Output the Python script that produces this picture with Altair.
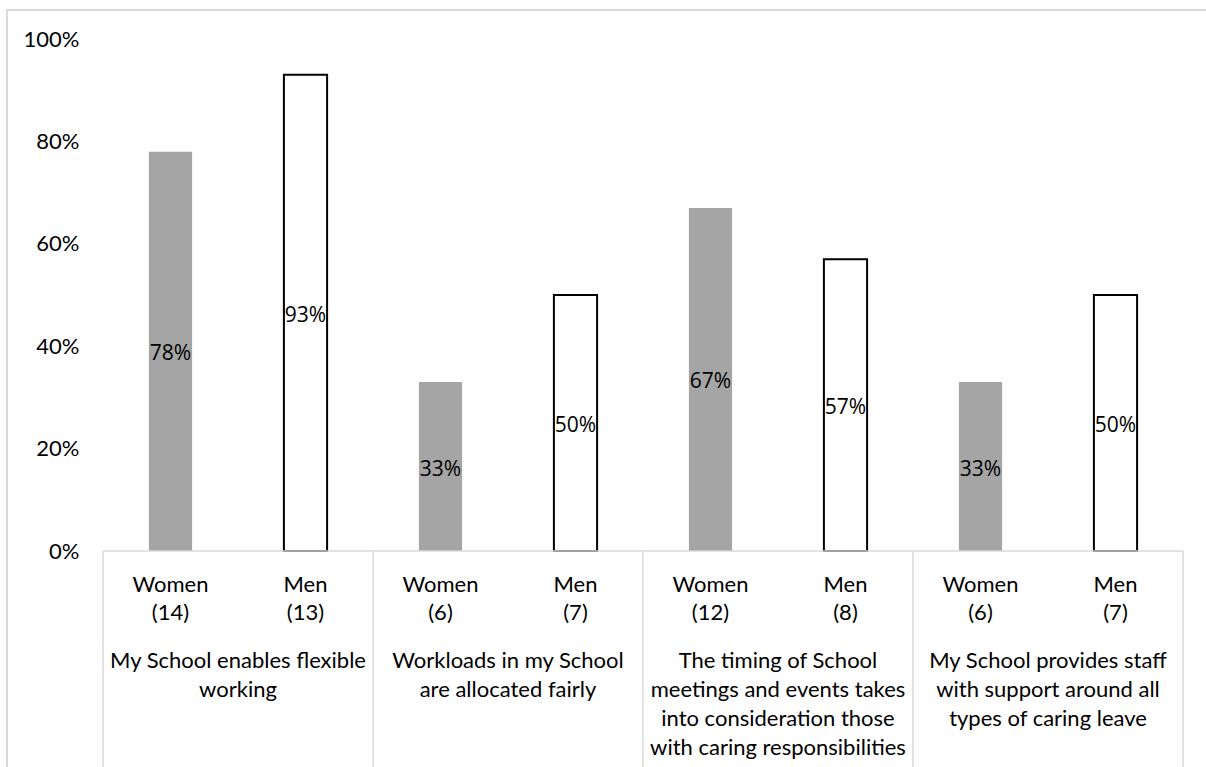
import altair as alt
import pandas as pd

# Survey statements (wrapped as they appear under each pair of columns)
statements = [
    "My School enables flexible\nworking",
    "Workloads in my School\nare allocated fairly",
    "The timing of School\nmeetings and events takes\ninto consideration those\nwith caring responsibilities",
    "My School provides staff\nwith support around all\ntypes of caring leave",
]
women_pct = [78, 33, 67, 33]
men_pct = [93, 50, 57, 50]
women_n = [14, 6, 12, 6]
men_n = [13, 7, 8, 7]

W, H = 1080, 512
AXIS_FONT = "Lato"
AXIS_SIZE = 22
GRID_GREY = "#d9d9d9"

rows = []
for i, (wp, mp, wn, mn) in enumerate(zip(women_pct, men_pct, women_n, men_n)):
    rows.append({"slot": f"{i}-W", "group": i, "sex": "Women", "pct": wp / 100,
                 "label": f"Women\n({wn})", "value_text": f"{wp}%"})
    rows.append({"slot": f"{i}-M", "group": i, "sex": "Men", "pct": mp / 100,
                 "label": f"Men\n({mn})", "value_text": f"{mp}%"})
bars_df = pd.DataFrame(rows)
slot_order = list(bars_df["slot"])

groups_df = pd.DataFrame({"pos": [i + 0.5 for i in range(len(statements))],
                          "text": statements})
bounds_df = pd.DataFrame({"edge": list(range(len(statements) + 1))})
axis_df = pd.DataFrame({"start": [0], "end": [len(statements)], "zero": [0]})

x_band = alt.X("slot:N", sort=slot_order, axis=None,
               scale=alt.Scale(paddingInner=0.68, paddingOuter=0.34))
pct_axis = alt.Axis(values=[0, 0.2, 0.4, 0.6, 0.8, 1.0], format=".0%",
                    grid=False, domain=False, ticks=False,
                    labelFont=AXIS_FONT, labelFontSize=AXIS_SIZE,
                    labelColor="black", labelPadding=24)
pct_scale = alt.Scale(domain=[0, 1], nice=False)

bars = alt.Chart(bars_df).mark_bar().encode(
    x=x_band,
    y=alt.Y("pct:Q", scale=pct_scale, axis=pct_axis, title=None),
    fill=alt.Fill("sex:N", scale=alt.Scale(domain=["Women", "Men"],
                                           range=["#a5a5a5", "white"]), legend=None),
    stroke=alt.Stroke("sex:N", scale=alt.Scale(domain=["Women", "Men"],
                                               range=["#a5a5a5", "black"]), legend=None),
    strokeWidth=alt.StrokeWidth("sex:N", scale=alt.Scale(domain=["Women", "Men"],
                                                         range=[0, 2]), legend=None),
)

value_labels = alt.Chart(bars_df).transform_calculate(
    mid="datum.pct / 2"
).mark_text(font="Open Sans", fontSize=21, color="black", baseline="middle", dy=3).encode(
    x=x_band,
    y=alt.Y("mid:Q", scale=pct_scale, axis=pct_axis, title=None),
    text="value_text:N",
)

sex_labels = alt.Chart(bars_df).mark_text(
    font=AXIS_FONT, fontSize=AXIS_SIZE, color="black", baseline="alphabetic",
    lineBreak="\n", lineHeight=28,
).encode(
    x=x_band,
    y=alt.value(H + 41),
    text="label:N",
)

x_groups = alt.X("pos:Q", scale=alt.Scale(domain=[0, len(statements)], nice=False), axis=None)

group_labels = alt.Chart(groups_df).mark_text(
    font=AXIS_FONT, fontSize=AXIS_SIZE, color="black", baseline="alphabetic",
    lineBreak="\n", lineHeight=29,
).encode(
    x=x_groups,
    y=alt.value(H + 117),
    text="text:N",
)

separators = alt.Chart(bounds_df).mark_rule(color=GRID_GREY, strokeWidth=1.5).encode(
    x=alt.X("edge:Q", scale=alt.Scale(domain=[0, len(statements)], nice=False), axis=None),
    y=alt.value(H),
    y2=alt.value(H + 240),
)

baseline = alt.Chart(axis_df).mark_rule(color=GRID_GREY, strokeWidth=1.5).encode(
    x=alt.X("start:Q", scale=alt.Scale(domain=[0, len(statements)], nice=False), axis=None),
    x2="end:Q",
    y=alt.value(H),
)

frame = alt.Chart(axis_df).mark_rect(fill="transparent", stroke=GRID_GREY, strokeWidth=2).encode(
    x=alt.value(-96),
    x2=alt.value(W + 40),
    y=alt.value(-29),
    y2=alt.value(H + 260),
)

chart = alt.layer(
    frame, bars, baseline, separators, value_labels, sex_labels, group_labels
).resolve_scale(
    x="independent"
).properties(
    width=W, height=H,
    background="white",
    autosize=alt.AutoSizeParams(type="none"),
    padding={"left": 103, "top": 39, "right": 23, "bottom": 216},
).configure_view(strokeWidth=0, stroke="transparent")

chart.save("out.html", embed_options={"renderer": "svg", "actions": False})
